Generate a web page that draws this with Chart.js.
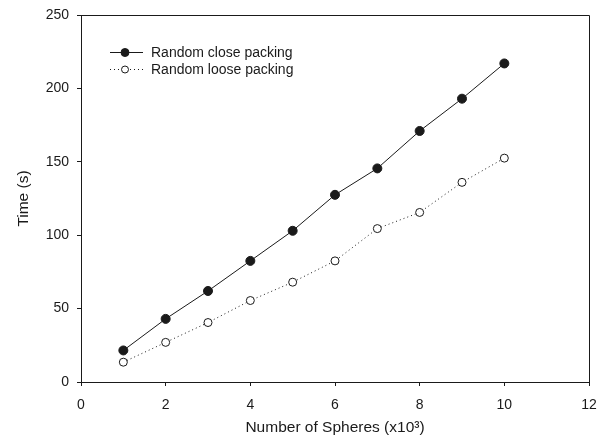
<!DOCTYPE html>
<html>
<head>
<meta charset="utf-8">
<script src="https://cdn.jsdelivr.net/npm/chart.js@4.4.1/dist/chart.umd.min.js"></script>
<style>
  html, body { margin: 0; padding: 0; background: #fff; }
  #wrap { width: 601px; height: 448px; }
</style>
</head>
<body>
<div id="wrap"><canvas id="c" width="601" height="448"></canvas></div>
<script>
// Number of spheres (thousands) and simulation times (s)
const spheres = [1, 2, 3, 4, 5, 6, 7, 8, 9, 10];
const closeTimes = [21.5, 43, 62, 82.5, 103, 127.5, 145.5, 171, 193, 217];
const looseTimes = [13.5, 27, 40.5, 55.5, 68, 82.5, 104.5, 115.5, 136, 152.5];
const seriesNames = ['Random close packing', 'Random loose packing'];
const xTicks = [0, 2, 4, 6, 8, 10, 12];
const yTicks = [0, 50, 100, 150, 200, 250];

const INK = '#1a1a1a';
const FONT = 'Liberation Sans, Arial, sans-serif';

const toPoints = (xs, ys) => xs.map((x, i) => ({ x: x, y: ys[i] }));

// Frame around the plotting area (top and right edges)
const framePlugin = {
  id: 'frame',
  afterDraw(chart) {
    const { ctx, chartArea: a } = chart;
    ctx.save();
    ctx.strokeStyle = INK;
    ctx.lineWidth = 1;
    ctx.beginPath();
    ctx.moveTo(Math.round(a.left) + 0.5, Math.round(a.top) + 0.5);
    ctx.lineTo(Math.round(a.right) + 0.5, Math.round(a.top) + 0.5);
    ctx.lineTo(Math.round(a.right) + 0.5, Math.round(a.bottom) + 0.5);
    ctx.stroke();
    ctx.restore();
  }
};

// Legend with a line sample and marker for each series
const legendPlugin = {
  id: 'lineLegend',
  afterDraw(chart) {
    const { ctx } = chart;
    const x0 = 110, x1 = 143, mx = 125, tx = 151;
    const rows = [52, 69];
    ctx.save();
    ctx.font = '14px ' + FONT;
    ctx.textBaseline = 'middle';
    ctx.fillStyle = INK;
    chart.data.datasets.forEach((ds, i) => {
      const y = rows[i] + 0.5;
      ctx.strokeStyle = INK;
      ctx.lineWidth = 1;
      ctx.setLineDash(ds.borderDash || []);
      ctx.beginPath();
      ctx.moveTo(x0, y);
      ctx.lineTo(x1, y);
      ctx.stroke();
      ctx.setLineDash([]);
      ctx.beginPath();
      ctx.arc(mx, y, ds.pointRadius - 0.5, 0, Math.PI * 2);
      ctx.fillStyle = ds.pointBackgroundColor;
      ctx.fill();
      ctx.strokeStyle = ds.pointBorderColor;
      ctx.stroke();
      ctx.fillStyle = INK;
      ctx.fillText(ds.label, tx, rows[i] + 1);
    });
    ctx.restore();
  }
};

new Chart(document.getElementById('c'), {
  type: 'line',
  data: {
    datasets: [
      {
        label: seriesNames[0],
        data: toPoints(spheres, closeTimes),
        borderColor: INK,
        borderWidth: 1,
        pointRadius: 4.5,
        pointBackgroundColor: INK,
        pointBorderColor: INK,
        pointBorderWidth: 1,
        tension: 0,
        fill: false
      },
      {
        label: seriesNames[1],
        data: toPoints(spheres, looseTimes),
        borderColor: INK,
        borderWidth: 1,
        borderDash: [1, 3],
        pointRadius: 4,
        pointBackgroundColor: '#ffffff',
        pointBorderColor: INK,
        pointBorderWidth: 1,
        tension: 0,
        fill: false
      }
    ]
  },
  options: {
    responsive: false,
    animation: false,
    events: [],
    layout: { padding: { top: 15, right: 12, left: 0, bottom: 0 } },
    plugins: { legend: { display: false }, tooltip: { enabled: false } },
    scales: {
      x: {
        type: 'linear',
        min: 0,
        max: 12,
        afterBuildTicks(scale) { scale.ticks = xTicks.map(v => ({ value: v })); },
        afterFit(scale) {
          scale.height = 66;
          scale.paddingLeft = 0;
          scale.paddingRight = 0;
        },
        grid: { drawOnChartArea: false, drawTicks: true, tickLength: 4, color: INK, lineWidth: 1 },
        border: { display: true, color: INK, width: 1 },
        ticks: { color: INK, font: { family: FONT, size: 14 }, padding: 11 },
        title: {
          display: true,
          text: 'Number of Spheres (x10³)',
          color: INK,
          font: { family: FONT, size: 15.5 },
          padding: { top: 0, bottom: 10.5 }
        }
      },
      y: {
        type: 'linear',
        min: 0,
        max: 250,
        afterBuildTicks(scale) { scale.ticks = yTicks.map(v => ({ value: v })); },
        afterFit(scale) {
          scale.width = 81;
          scale.paddingTop = 0;
          scale.paddingBottom = 0;
        },
        grid: { drawOnChartArea: false, drawTicks: true, tickLength: 4, color: INK, lineWidth: 1 },
        border: { display: true, color: INK, width: 1 },
        ticks: { color: INK, font: { family: FONT, size: 14 }, padding: 8 },
        title: {
          display: true,
          text: 'Time (s)',
          color: INK,
          font: { family: FONT, size: 15.5 },
          padding: { top: 14.5, bottom: 0 }
        }
      }
    }
  },
  plugins: [framePlugin, legendPlugin]
});
</script>
</body>
</html>
